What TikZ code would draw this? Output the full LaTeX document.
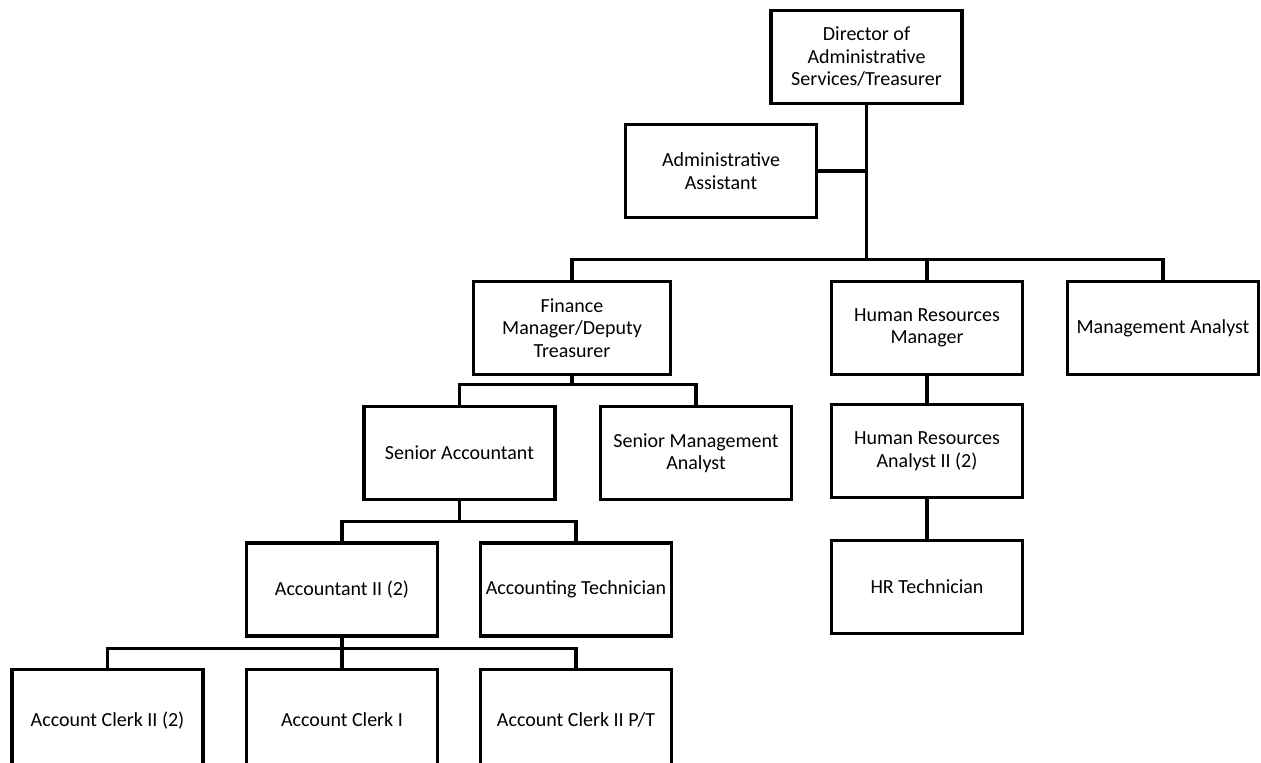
\documentclass[tikz,border=0pt]{standalone}
\usepackage{fontspec}
\setmainfont{Carlito}
\begin{document}
\begin{tikzpicture}[x=1pt,y=-1pt,line width=3.2pt,
  post/.style={draw,rectangle,align=center,minimum width=191pt,minimum height=93pt,inner sep=0pt,
    font=\fontsize{20}{22.5}\selectfont},
  link/.style={line cap=rect}]
  \useasboundingbox (0,0) rectangle (1261,763);
  \clip (0,0) rectangle (1261,763);
  % top of the chart
  \node[post] (dir) at (866.5,57) {Director of\\Administrative\\Services/Treasurer};
  \node[post] (asst) at (721,171) {Administrative\\Assistant};
  \node[post,minimum width=197pt] (fin) at (572,328) {Finance\\Manager/Deputy\\Treasurer};
  \node[post] (hrm) at (927,328) {Human Resources\\Manager};
  \node[post] (mgmt) at (1163,328) {Management Analyst};
  % second level
  \node[post] (sracc) at (459.5,453) {Senior Accountant};
  \node[post] (srmgmt) at (696,453) {Senior Management\\Analyst};
  \node[post] (hran) at (927,451) {Human Resources\\Analyst II (2)};
  \node[post] (hrtech) at (927,587) {HR Technician};
  \node[post] (acc) at (342,589.5) {Accountant II (2)};
  \node[post] (acctech) at (576,589.5) {Accounting Technician};
  \node[post,minimum height=105pt] (clerkb) at (107.5,722) {\raisebox{6pt}{\strut Account Clerk II (2)}};
  \node[post,minimum height=105pt] (clerka) at (342,722) {\raisebox{6pt}{\strut Account Clerk I}};
  \node[post,minimum height=105pt] (clerkpt) at (576,722) {\raisebox{6pt}{\strut Account Clerk II P/T}};
  % connectors
  \draw[link] (dir.south) -- ++(0,154) coordinate (bus);
  \draw[link] (asst.east) -- (asst.east -| dir.south);
  \draw[link] (fin.north) |- (bus) -| (mgmt.north);
  \draw[link] (hrm.north) -- (hrm.north |- bus);
  \draw[link] (fin.south) -- ++(0,8) coordinate (finbus);
  \draw[link] (sracc.north) |- (finbus) -| (srmgmt.north);
  \draw[link] (hrm.south) -- (hran.north);
  \draw[link] (hran.south) -- (hrtech.north);
  \draw[link] (sracc.south) -- ++(0,20) coordinate (accbus);
  \draw[link] (acc.north) |- (accbus) -| (acctech.north);
  \draw[link] (acc.south) -- ++(0,11) coordinate (clerkbus);
  \draw[link] (clerkb.north) |- (clerkbus) -| (clerkpt.north);
  \draw[link] (clerkbus) -- (clerka.north);
\end{tikzpicture}
\end{document}
